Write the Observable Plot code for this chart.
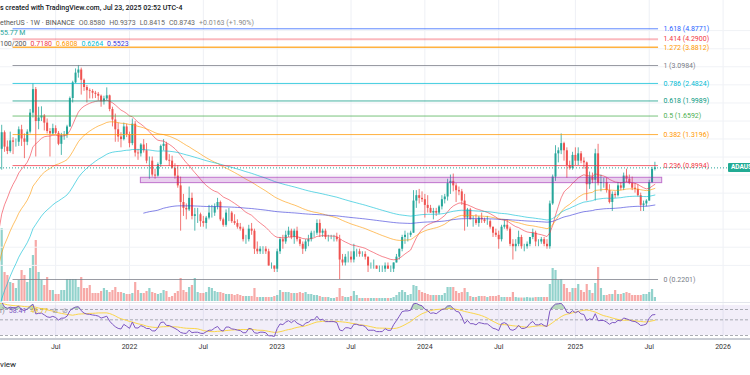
<!DOCTYPE html>
<html><head><meta charset="utf-8">
<script src="https://cdn.jsdelivr.net/npm/d3@7"></script>
<script src="https://cdn.jsdelivr.net/npm/@observablehq/plot@0.6"></script>
<style>
html,body{margin:0;padding:0;background:#fff;}
#wrap{position:relative;width:750px;height:375px;overflow:hidden;background:#fff;font-family:Roboto,"Liberation Sans",sans-serif;}
.layer{position:absolute;left:0;top:0;width:750px;overflow:hidden;}
.layer svg{display:block;background:transparent !important;}
.t{position:absolute;left:0;white-space:nowrap;font-size:7px;line-height:9px;}
.t span{margin-left:4px;}
.t span:first-child{margin-left:0;}
</style></head><body>
<div id="wrap">
  <div class="layer" id="rsiL" style="height:375px"></div>
  <div class="layer" id="volL" style="height:302px"></div>
  <div class="layer" id="priceL" style="height:302px"></div>
  <div style="position:absolute;left:0;top:302px;width:750px;height:1px;background:#e3e6ec"></div>
  <div style="position:absolute;left:0;top:338px;width:750px;height:1.5px;background:#c9ccd4"></div>
</div>
<script>
// ---------------- data ----------------
const firstWeek = "2021-02-08";
const firstOpen = 0.70;

const closes2021 = [0.86,1.10,1.35, 1.13,1.07,1.22,1.20,1.20, 1.40,1.25,1.20,1.36, 1.72,2.30,1.55,1.62,1.66, 1.52,1.37,1.33,1.42, 1.34,1.17,1.30,1.31, 1.45,2.06,2.50,2.82,2.93, 2.58,2.36,2.27,2.25, 2.20,2.17,2.12,1.98, 2.05,2.13,1.80,1.58,1.40, 1.28,1.24,1.45,1.32];
const highs2021  = [0.95,1.12,1.48, 1.38,1.22,1.36,1.27,1.25, 1.45,1.48,1.33,1.40, 1.80,2.47,2.36,1.85,1.86, 1.69,1.60,1.42,1.50, 1.47,1.37,1.34,1.37, 1.48,2.10,2.55,2.97,3.10, 3.00,2.62,2.42,2.32, 2.30,2.25,2.22,2.15, 2.12,2.35,2.15,1.85,1.70, 1.52,1.35,1.52,1.50];
const lows2021   = [0.67,0.83,0.85, 1.06,1.03,1.05,1.03,1.13, 1.14,1.14,0.98,1.15, 1.33,1.62,1.00,1.40,1.55, 1.38,1.33,1.00,1.31, 1.32,1.15,1.02,1.23, 1.26,1.44,1.95,2.48,2.65, 2.15,2.25,1.95,2.05, 2.05,2.06,2.00,1.85, 1.90,2.00,1.75,1.45,1.20, 1.20,1.12,1.22,1.27];
const volumes2021 = [770,700,1022,406,364,266,252,182,294,434,364,266,462,644,854,406,294,224,336,154,154,98,98,154,154,308,308,308,308,196,336,182,182,224,112,112,112,140,182,154,126,154,196,126,126,112,98];

const closes2022 = [1.18,1.50,1.05,1.04,1.16, 1.08,0.95,0.95,0.80, 0.79,0.91,1.14,1.17, 0.96,0.95,0.87,0.79, 0.70,0.57,0.53,0.52,0.60, 0.48,0.49,0.49,0.45, 0.44,0.47,0.50,0.50, 0.54,0.57,0.46,0.43,0.50, 0.50,0.45,0.44,0.42, 0.41,0.36,0.36,0.41,0.40, 0.32,0.31,0.32,0.32, 0.31,0.26,0.26,0.25];
const highs2022  = [1.36,1.60,1.55,1.10,1.18, 1.24,1.18,1.00,1.00, 0.86,0.93,1.16,1.24, 1.20,1.03,1.01,0.92, 0.90,0.78,0.63,0.56,0.69, 0.64,0.53,0.53,0.50, 0.48,0.48,0.55,0.55, 0.56,0.60,0.58,0.47,0.52, 0.53,0.51,0.49,0.46, 0.44,0.42,0.38,0.43,0.44, 0.41,0.35,0.33,0.33, 0.33,0.32,0.27,0.26];
const lows2022   = [1.12,1.15,1.00,0.96,1.00, 1.05,0.92,0.76,0.78, 0.76,0.78,0.88,1.08, 0.95,0.89,0.86,0.76, 0.68,0.40,0.48,0.46,0.51, 0.46,0.40,0.44,0.42, 0.42,0.41,0.46,0.47, 0.48,0.52,0.45,0.42,0.42, 0.45,0.44,0.43,0.41, 0.40,0.35,0.34,0.35,0.38, 0.30,0.30,0.30,0.30, 0.30,0.26,0.25,0.24];
const volumes2022 = [98,112,266,154,112,112,140,182,126,112,98,112,154,140,56,70,112,140,322,154,126,196,224,322,126,112,112,126,196,182,140,126,126,112,98,98,98,84,98,84,70,70,70,70,182,56,56,56,56,56,56,70];

const closes2023 = [0.31,0.36,0.35,0.38,0.40, 0.37,0.40,0.36,0.34, 0.32,0.35,0.36,0.39, 0.39,0.44,0.39,0.40, 0.37,0.37,0.37,0.37,0.36, 0.28,0.27,0.29,0.29, 0.28,0.31,0.31,0.30,0.30, 0.29,0.26,0.26,0.26, 0.25,0.25,0.25,0.26, 0.25,0.25,0.27,0.29,0.32, 0.37,0.38,0.38,0.39, 0.58,0.62,0.60,0.59];
const highs2023  = [0.32,0.37,0.38,0.40,0.42, 0.41,0.41,0.42,0.37, 0.35,0.36,0.38,0.40, 0.40,0.46,0.46,0.41, 0.41,0.38,0.38,0.38,0.39, 0.38,0.30,0.30,0.31, 0.31,0.34,0.32,0.32,0.31, 0.31,0.29,0.27,0.28, 0.26,0.26,0.26,0.27, 0.27,0.26,0.27,0.30,0.32, 0.38,0.40,0.39,0.40, 0.66,0.66,0.67,0.65];
const lows2023   = [0.24,0.30,0.32,0.34,0.37, 0.36,0.34,0.35,0.33, 0.30,0.31,0.33,0.35, 0.37,0.38,0.37,0.37, 0.36,0.35,0.36,0.35,0.35, 0.22,0.26,0.26,0.27, 0.27,0.27,0.29,0.29,0.29, 0.28,0.24,0.25,0.25, 0.25,0.24,0.24,0.24, 0.25,0.24,0.24,0.27,0.28, 0.31,0.34,0.35,0.37, 0.39,0.53,0.56,0.57];
const volumes2023 = [84,154,126,126,126,112,112,112,126,112,126,98,98,84,84,70,56,56,56,42,42,56,182,70,56,56,70,140,84,42,42,42,42,42,42,42,42,42,42,42,42,56,84,126,154,126,84,98,224,210,154,126];

const closes2024 = [0.55,0.53,0.50,0.51,0.50, 0.54,0.59,0.61,0.72, 0.74,0.70,0.66,0.65, 0.58,0.47,0.52,0.46,0.46, 0.44,0.47,0.46,0.45, 0.45,0.42,0.39,0.38, 0.36,0.42,0.43,0.41,0.34, 0.33,0.34,0.37,0.33, 0.33,0.34,0.37,0.39,0.35, 0.35,0.36,0.34,0.33, 0.56,0.78,1.04,1.08, 1.18,1.08,0.90,0.87,1.02];
const highs2024  = [0.63,0.62,0.55,0.53,0.53, 0.55,0.62,0.63,0.76, 0.80,0.81,0.72,0.69, 0.67,0.63,0.53,0.53,0.48, 0.49,0.48,0.50,0.47, 0.48,0.46,0.42,0.41, 0.40,0.43,0.46,0.46,0.42, 0.36,0.36,0.40,0.38, 0.34,0.35,0.37,0.41,0.40, 0.36,0.37,0.37,0.36, 0.58,0.80,1.15,1.12, 1.33,1.20,1.12,0.95,1.06];
const lows2024   = [0.47,0.50,0.50,0.46,0.48, 0.49,0.52,0.56,0.58, 0.63,0.65,0.57,0.62, 0.55,0.40,0.42,0.46,0.42, 0.43,0.42,0.44,0.44, 0.43,0.41,0.37,0.37, 0.32,0.35,0.41,0.40,0.33, 0.28,0.31,0.33,0.32, 0.31,0.32,0.33,0.36,0.33, 0.33,0.34,0.33,0.32, 0.32,0.55,0.74,0.93, 1.03,0.95,0.77,0.85,0.85];
const volumes2024 = [112,98,84,84,84,84,84,112,196,196,196,140,112,126,182,126,70,56,56,70,70,70,56,70,70,70,84,56,56,56,56,126,56,49,49,49,56,49,49,56,56,56,56,56,238,462,434,294,308,238,182,126,182];

const closes2025 = [0.95,1.04,0.95,0.93, 0.71,0.78,0.75,1.04, 0.72,0.73,0.73,0.66,0.57, 0.63,0.62,0.70,0.68, 0.79,0.76,0.72,0.68, 0.67,0.62,0.55,0.56,0.58, 0.73,0.858,0.8743];
const highs2025  = [1.12,1.12,1.07,0.99, 0.94,0.83,0.82,1.10, 1.17,0.80,0.77,0.77,0.71, 0.65,0.65,0.73,0.73, 0.82,0.86,0.80,0.78, 0.72,0.71,0.64,0.58,0.59, 0.75,0.88,0.9373];
const lows2025   = [0.90,0.90,0.92,0.86, 0.58,0.67,0.72,0.58, 0.70,0.65,0.68,0.64,0.56, 0.51,0.60,0.61,0.66, 0.66,0.73,0.71,0.66, 0.64,0.61,0.51,0.51,0.54, 0.58,0.72,0.8415];
const volumes2025 = [182,238,154,126,238,154,112,252,476,182,84,84,98,98,154,98,98,112,126,112,84,84,84,84,98,98,126,168,55.77];

// indicator seeds at the first visible bar
const emaLengths = [20, 50, 100, 200];
const emaSeeds = [0.33, 0.23, 0.13, 0.50];
const emaStartWeek = [0, 0, 0, 52];
const emaColors = ["#f23645", "#ff9800", "#00bcd4", "#3535d8"];
const rsiSeed = {gain: 0.06, loss: 0.012};

// fib retracement drawing
const fibLevels = ["0", "0.236", "0.382", "0.5", "0.618", "0.786", "1", "1.272", "1.414", "1.618"];
const fibPrices = [0.2201, 0.8994, 1.3196, 1.6592, 1.9989, 2.4824, 3.0984, 3.8812, 4.2900, 4.8771];
const fibColors = ["#787b86", "#f23645", "#ff9800", "#4caf50", "#089981", "#00bcd4", "#787b86", "#ff9800", "#f23645", "#2962ff"];
const fibStart = "2021-03-22", fibEnd = "2025-07-30", fibLabelAt = "2025-08-11";

// support box drawing
const boxZone = {start: "2022-01-31", end: "2025-08-08", low: 0.724, high: 0.774};

// axes
const xDomainDates = ["2021-02-19T01:00Z", "2026-03-13T15:00Z"];
const priceDomain = [0.2201, 3.0984];
const tickDates = ["2021-07-05","2022-01-03","2022-07-04","2023-01-02","2023-07-03","2024-01-01","2024-07-01","2025-01-06","2025-07-07","2026-01-05"];
const tickLabels = ["Jul","2022","Jul","2023","Jul","2024","Jul","2025","Jul","2026"];
const gridPrices = [0.262, 0.328, 0.41, 0.512, 0.64, 0.8, 1.0, 1.25, 1.56, 1.95, 2.44, 3.05, 3.81, 4.77];
const rsiLevels = [70, 50, 30];
const rsiBand = {low: 30, high: 80};

// legend texts
const headerLine = "s created with TradingView.com, Jul 23, 2025 02:52 UTC-4";
const symbolLine = "etherUS · 1W · BINANCE";
const ohlcNames = ["O", "H", "L", "C"];
const ohlcLast = [0.8580, 0.9373, 0.8415, 0.8743];
const changeText = "+0.0163 (+1.90%)";
const volumeText = "55.77 M";
const emaLabel = "100/200";
const emaLast = [0.7180, 0.6808, 0.6264, 0.5523];
const rsiLabel = "r)";
const rsiLast = ["58.41", "49.77"];
const tickerText = "ADAUSDT";
const footerText = "view";

// ---------------- build ----------------
const closes = [...closes2021, ...closes2022, ...closes2023, ...closes2024, ...closes2025];
const highs = [...highs2021, ...highs2022, ...highs2023, ...highs2024, ...highs2025];
const lows = [...lows2021, ...lows2022, ...lows2023, ...lows2024, ...lows2025];
const volumes = [...volumes2021, ...volumes2022, ...volumes2023, ...volumes2024, ...volumes2025];
const n = closes.length;
if (highs.length !== n || lows.length !== n || volumes.length !== n) console.error("length mismatch", n, highs.length, lows.length, volumes.length);

const t0 = new Date(firstWeek + "T00:00Z");
const emas = emaLengths.map((len, k) => {
  const a = 2 / (len + 1), out = new Array(n).fill(NaN);
  let v = emaSeeds[k]; out[emaStartWeek[k]] = v;
  for (let i = emaStartWeek[k] + 1; i < n; i++) { v = v + a * (closes[i] - v); out[i] = v; }
  return out;
});
const rsi = []; let ag = rsiSeed.gain, al = rsiSeed.loss;
rsi.push(100 - 100 / (1 + ag / al));
for (let i = 1; i < n; i++) {
  const ch = closes[i] - closes[i - 1];
  ag = (ag * 13 + Math.max(ch, 0)) / 14; al = (al * 13 + Math.max(-ch, 0)) / 14;
  rsi.push(100 - 100 / (1 + ag / al));
}
const rsiMA = rsi.map((_, i) => d3.mean(rsi.slice(Math.max(0, i - 13), i + 1)));

const bars = closes.map((c, i) => {
  const open = i === 0 ? firstOpen : closes[i - 1];
  return {date: d3.utcDay.offset(t0, 7 * i), open, high: highs[i], low: lows[i], close: c,
    volume: volumes[i], up: c >= open, ema20: emas[0][i], ema50: emas[1][i], ema100: emas[2][i], ema200: emas[3][i],
    rsi: rsi[i], rsiMA: rsiMA[i]};
});
const fibs = fibLevels.map((l, i) => ({level: l, price: fibPrices[i], color: fibColors[i]}));
const xDomain = xDomainDates.map(d => new Date(d));
const ticks = tickDates.map(d => new Date(d + "T00:00Z"));
const tickLabelOf = new Map(ticks.map((d, i) => [+d, tickLabels[i]]));
const fS = new Date(fibStart + "T00:00Z"), fE = new Date(fibEnd + "T00:00Z"), fL = new Date(fibLabelAt + "T00:00Z");
const box = {...boxZone, start: new Date(boxZone.start + "T00:00Z"), end: new Date(boxZone.end + "T00:00Z")};
const lastClose = closes[n - 1];

const upC = "#26a69a", downC = "#ef5350";
const volUp = "rgba(38,166,154,0.5)", volDown = "rgba(239,83,80,0.5)";
const font = "Roboto, 'Liberation Sans', sans-serif";
const xScale = {type: "utc", domain: xDomain, range: [0, 750], axis: null};

// RSI pane + time axis
const rsiPlot = Plot.plot({
  width: 750, height: 375, marginTop: 303, marginBottom: 36, marginLeft: 0, marginRight: 0,
  x: {type: "utc", domain: xDomain, range: [0, 750]},
  y: {type: "log", domain: [30, 70], range: [335, 309], axis: null},
  color: {type: "identity"},
  style: {background: "transparent", fontFamily: font},
  marks: [
    Plot.ruleX(ticks, {stroke: "#eef0f5"}),
    Plot.rect([rsiBand], {x1: () => xDomain[0], x2: () => xDomain[1], y1: "low", y2: "high", fill: "#7e57c2", fillOpacity: 0.1}),
    Plot.ruleY(rsiLevels, {stroke: "#9598a1", strokeDasharray: "3,2", strokeWidth: 0.8}),
    Plot.areaY(bars, {x: "date", y1: () => 70, y2: d => Math.max(70, d.rsi), fill: "#4caf50", fillOpacity: 0.35, clip: true}),
    Plot.line(bars, {x: "date", y: "rsiMA", stroke: "#fbd64a", strokeWidth: 1, clip: true}),
    Plot.line(bars, {x: "date", y: "rsi", stroke: "#7e57c2", strokeWidth: 1, clip: true}),
    Plot.axisX(ticks, {tickFormat: d => tickLabelOf.get(+d), tickSize: 0, tickPadding: 5, fontSize: 7, color: "#333", label: null})
  ]
});
document.getElementById("rsiL").append(rsiPlot);

// volume layer
const volPlot = Plot.plot({
  width: 750, height: 302, margin: 0,
  x: xScale, y: {domain: [0, 1400], range: [301, 201], axis: null},
  color: {type: "identity"},
  style: {background: "transparent", fontFamily: font},
  marks: [
    Plot.ruleX(ticks, {stroke: "#eef0f5"}),
    Plot.ruleX(bars, {x: "date", y1: () => 0, y2: "volume", stroke: d => d.up ? volUp : volDown, strokeWidth: 2.2})
  ]
});
document.getElementById("volL").append(volPlot);

// price layer
const emaMarks = ["ema20", "ema50", "ema100", "ema200"].map((k, i) =>
  Plot.line(bars, {x: "date", y: k, stroke: emaColors[i], strokeOpacity: 0.6, strokeWidth: 1}));
const pricePlot = Plot.plot({
  width: 750, height: 302, margin: 0,
  x: xScale, y: {type: "log", domain: priceDomain, range: [279, 65], axis: null},
  color: {type: "identity"},
  style: {background: "transparent", fontFamily: font},
  marks: [
    Plot.ruleY(gridPrices, {stroke: "#f0f2f6"}),
    Plot.ruleX(bars, {x: "date", y1: "low", y2: "high", stroke: d => d.up ? upC : downC, strokeWidth: 0.8}),
    Plot.ruleX(bars, {x: "date", y1: "open", y2: "close", stroke: d => d.up ? upC : downC, strokeWidth: 2}),
    ...emaMarks,
    Plot.ruleY(fibs, {y: "price", x1: () => fS, x2: () => fE, stroke: "color",
      strokeWidth: d => d.level === "1.414" ? 2 : (d.level === "1.272" ? 1.5 : 1),
      strokeOpacity: d => d.level === "1.414" ? 0.35 : 0.75}),
    Plot.text(fibs, {x: () => fL, y: "price", text: d => `${d.level} (${d.price.toFixed(4)})`, textAnchor: "start", fill: "color", fontSize: 7}),
    Plot.rect([box], {x1: "start", x2: "end", y1: "low", y2: "high", fill: "#9c27b0", fillOpacity: 0.22, stroke: "#9c27b0", strokeOpacity: 0.6, strokeWidth: 1}),
    Plot.ruleY([lastClose], {stroke: "#26a69a", strokeDasharray: "1,2", strokeWidth: 1})
  ]
});
document.getElementById("priceL").append(pricePlot);

// legends & labels (HTML overlay)
const wrap = document.getElementById("wrap");
function addLine(top, parts, extra) {
  const div = document.createElement("div");
  div.className = "t"; div.style.top = top + "px";
  if (extra) Object.assign(div.style, extra);
  for (const [txt, col, w] of parts) {
    const s = document.createElement("span"); s.textContent = txt; s.style.color = col; if (w) s.style.fontWeight = w;
    div.append(s);
  }
  wrap.append(div);
}
addLine(3.8, [[headerLine, "#131722", "500"]]);
addLine(19.3, [[symbolLine, "#555"], ...ohlcNames.map((k, i) => [k + ohlcLast[i].toFixed(4), "#666"]), [changeText, "#888"]]);
addLine(29.3, [[volumeText, "#26a69a"]]);
addLine(39.7, [[emaLabel, "#555"], ...emaLast.map((v, i) => [v.toFixed(4), emaColors[i]])]);
addLine(306.5, [[rsiLabel, "#787b86"], [rsiLast[0], "#7e57c2"], [rsiLast[1], "#e8c21a"], ["⊘", "#9598a1"], ["⊘", "#9598a1"]], {fontSize: "7px"});
addLine(360, [[footerText, "#131722"]], {fontSize: "8px", left: "0px", lineHeight: "10px"});

const yPx = pricePlot.scale("y").apply(lastClose);
const tag = document.createElement("div");
Object.assign(tag.style, {position: "absolute", left: "728px", top: (yPx - 4.5) + "px", width: "40px", height: "9px",
  background: "#22ab94", color: "#fff", fontSize: "6.5px", lineHeight: "9px", fontWeight: "bold", paddingLeft: "3px", borderRadius: "1px"});
tag.textContent = tickerText;
wrap.append(tag);
</script>
</body></html>
